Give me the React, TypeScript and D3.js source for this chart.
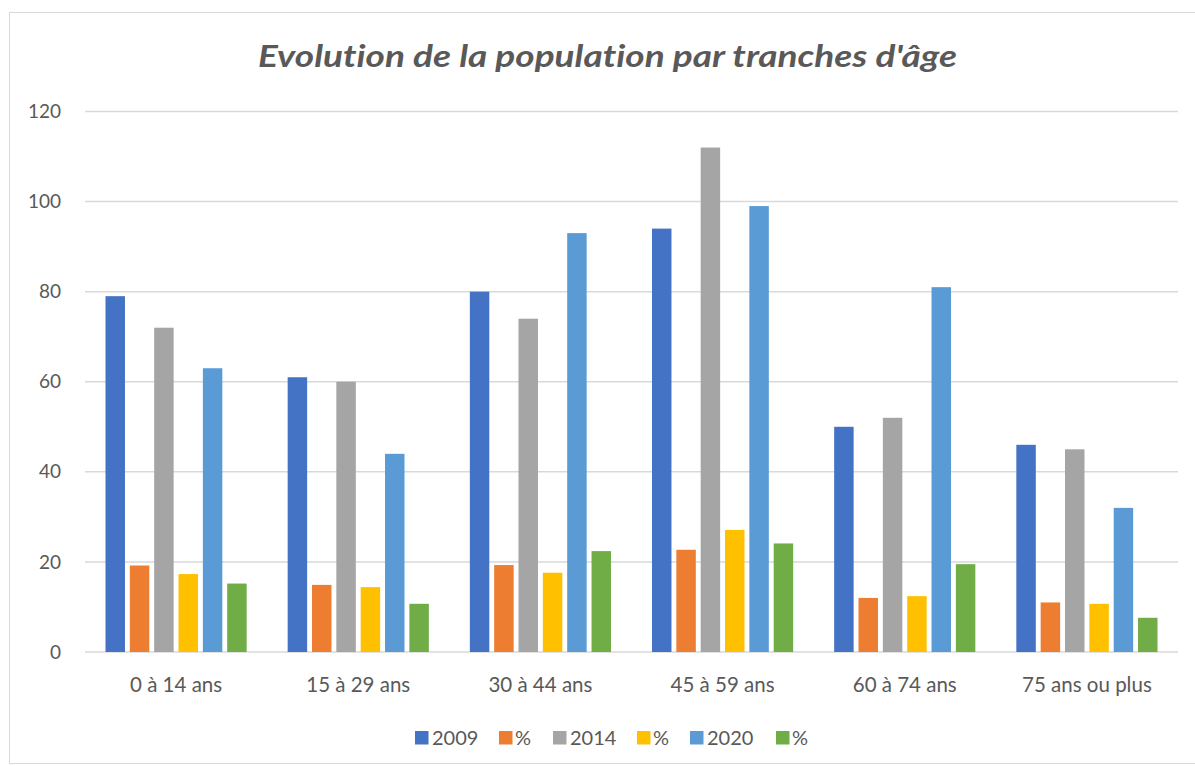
import React from "react";
import * as d3 from "d3";

const categories = ["0 à 14 ans", "15 à 29 ans", "30 à 44 ans", "45 à 59 ans", "60 à 74 ans", "75 ans ou plus"];
const seriesNames = ["2009", "%", "2014", "%", "2020", "%"];
const seriesColors = ["#4472c4", "#ed7d31", "#a5a5a5", "#ffc000", "#5b9bd5", "#70ad47"];
const values2009 = [79, 61, 80, 94, 50, 46];
const pct2009 = [19.2, 14.9, 19.3, 22.7, 12, 11];
const values2014 = [72, 60, 74, 112, 52, 45];
const pct2014 = [17.3, 14.4, 17.6, 27.1, 12.4, 10.7];
const values2020 = [63, 44, 93, 99, 81, 32];
const pct2020 = [15.2, 10.7, 22.4, 24.1, 19.5, 7.6];
const yTicks = [0, 20, 40, 60, 80, 100, 120];
const title = "Evolution de la population par tranches d'âge";

const seriesValues = [values2009, pct2009, values2014, pct2014, values2020, pct2020];

const W = 1195;
const H = 766;
const FONT = "Lato, 'Open Sans', sans-serif";

export default function App() {
  const left = 85, right = 1178, top = 111.5, bottom = 652;
  const x0 = d3.scaleBand<string>().domain(categories).range([left, right]).paddingInner(0.225).paddingOuter(0.1125);
  const x1 = d3.scaleBand<number>().domain(d3.range(seriesNames.length)).range([0, x0.bandwidth()]).paddingInner(0.2).paddingOuter(0);
  const y = d3.scaleLinear().domain([0, 120]).range([bottom, top]);

  const legendItems = [
    { sq: 415, tx: 432 },
    { sq: 499, tx: 515 },
    { sq: 553, tx: 570 },
    { sq: 637, tx: 653 },
    { sq: 690, tx: 707 },
    { sq: 776, tx: 792 },
  ];

  return (
    <svg width={W} height={H} style={{ position: "absolute", left: 0, top: 0, background: "#fff", fontVariantLigatures: "none" }}>
      <rect x={0} y={0} width={W} height={H} fill="#fff" />
      <rect x={9.5} y={12.5} width={W} height={751} fill="#fff" stroke="#d9d9d9" strokeWidth={1} />
      <text x={607.5} y={67} textAnchor="middle" fontFamily={FONT} fontStyle="italic" fontWeight={700} fontSize={30.5}
        fill="#595959" textLength={699} lengthAdjust="spacingAndGlyphs"
        style={{ fontVariantLigatures: "none", fontFeatureSettings: "'liga' 0, 'dlig' 0" }}>
        {title}
      </text>
      {yTicks.map((t) => (
        <g key={t}>
          <line x1={left} x2={right} y1={y(t)} y2={y(t)} stroke="#d9d9d9" strokeWidth={1.5} />
          <text x={61} y={y(t)} dy="0.35em" textAnchor="end" fontFamily={FONT} fontSize={19} fill="#595959">
            {t}
          </text>
        </g>
      ))}
      {categories.map((c, ci) => (
        <g key={c} transform={`translate(${x0(c)},0)`}>
          {seriesValues.map((vals, si) => (
            <rect
              key={si}
              x={x1(si)}
              y={y(vals[ci])}
              width={x1.bandwidth()}
              height={y(0) - y(vals[ci])}
              fill={seriesColors[si]}
            />
          ))}
          <text x={x0.bandwidth() / 2} y={685} dy="0.35em" textAnchor="middle" fontFamily={FONT} fontSize={20.5} fill="#595959">
            {c}
          </text>
        </g>
      ))}
      {seriesNames.map((s, i) => (
        <g key={i}>
          <rect x={legendItems[i].sq} y={731} width={13.5} height={13.5} fill={seriesColors[i]} />
          <text x={legendItems[i].tx} y={737.5} dy="0.35em" fontFamily={FONT} fontSize={20} fill="#595959">
            {s}
          </text>
        </g>
      ))}
    </svg>
  );
}
